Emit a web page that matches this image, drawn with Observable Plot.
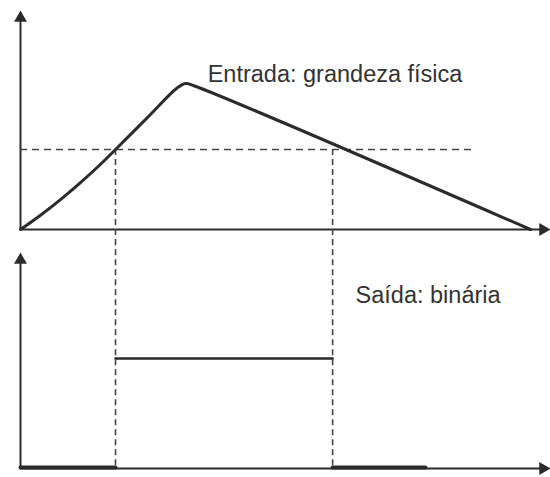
<!DOCTYPE html>
<html>
<head>
<meta charset="utf-8">
<script src="https://cdn.jsdelivr.net/npm/d3@7"></script>
<script src="https://cdn.jsdelivr.net/npm/@observablehq/plot@0.6"></script>
<style>
  html, body { margin: 0; padding: 0; background: #fff; }
  #chart svg { display: block; }
</style>
</head>
<body>
<div id="chart"></div>
<script>
// ---- data (time in arbitrary units, values normalised) ----
const inputTime  = [0, 3.92, 7.84, 11.76, 15.69, 18.63, 25.49, 30.59, 32.35, 34.12, 100];
const inputValue = [0, 0.098, 0.205, 0.321, 0.447, 0.548, 0.788, 0.966, 1.0, 0.983, 0];

const threshold = 0.548;
const thresholdEnd = 89.2;           // end of dashed threshold line
const switchTimes = [18.63, 61.2];   // on / off instants

const outputLowBefore = [0, 18.63];
const outputHigh      = [18.63, 61.2];
const outputLowAfter  = [61.2, 79.4];

const xAxisEnd = 102.45;             // arrowhead position on time axis
const inputAxisTop = 1.449;
const outputAxisTop = 1.895;
const inputPanelBottom = -0.08;      // verticals run to the panel edge
const outputPanelTop = 2.08;

const labelText = ["Entrada: grandeza física", "Saída: binária"];
const labelTime = [36.7, 65.7];
const labelValue = [1.065, 1.573];

// ---- build tables ----
const inputData = inputTime.map((t, i) => ({t, v: inputValue[i]}));
const seg = (a, v) => a.map(t => ({t, v}));

const ink = "#2b2b2b";
const dashInk = "#444";
const font = "'Liberation Sans', Arial, sans-serif";

const xScale = {domain: [0, 100], range: [20, 530], axis: null};

const inputPanel = Plot.plot({
  width: 550, height: 240,
  marginTop: 0, marginBottom: 0, marginLeft: 0, marginRight: 0,
  x: xScale,
  y: {domain: [0, 1], range: [229, 83], axis: null},
  style: {background: "#fff", fontFamily: font},
  marks: [
    Plot.ruleX([0], {y1: 0, y2: inputAxisTop, stroke: ink, strokeWidth: 2}),
    Plot.ruleY([0], {x1: 0, x2: xAxisEnd, stroke: ink, strokeWidth: 2}),
    Plot.dot([{t: 0, v: inputAxisTop}], {x: "t", y: "v", symbol: "triangle", r: 4.8, fill: ink, stroke: "none"}),
    Plot.dot([{t: xAxisEnd, v: 0}], {x: "t", y: "v", symbol: "triangle", r: 4.8, rotate: 90, fill: ink, stroke: "none"}),
    Plot.ruleY([threshold], {x1: 0, x2: thresholdEnd, stroke: dashInk, strokeWidth: 1.6, strokeDasharray: "7,5"}),
    Plot.ruleX(switchTimes, {y1: threshold, y2: inputPanelBottom, stroke: dashInk, strokeWidth: 1.6, strokeDasharray: "6,4"}),
    Plot.line(inputData, {x: "t", y: "v", stroke: ink, strokeWidth: 3, curve: "catmull-rom"}),
    Plot.text([0], {x: () => labelTime[0], y: () => labelValue[0], text: () => labelText[0],
      textAnchor: "start", lineAnchor: "middle", fontSize: 23.5, fill: "#333", fontFamily: font})
  ]
});

const outputPanel = Plot.plot({
  width: 550, height: 237,
  marginTop: 0, marginBottom: 0, marginLeft: 0, marginRight: 0,
  x: xScale,
  y: {domain: [0, 1], range: [228, 118], axis: null},
  style: {background: "#fff", fontFamily: font},
  marks: [
    Plot.ruleX(switchTimes, {y1: outputPanelTop, y2: 0, stroke: dashInk, strokeWidth: 1.6, strokeDasharray: "6,4"}),
    Plot.ruleX([0], {y1: 0, y2: outputAxisTop, stroke: ink, strokeWidth: 2}),
    Plot.ruleY([0], {x1: 0, x2: xAxisEnd, stroke: ink, strokeWidth: 2}),
    Plot.dot([{t: 0, v: outputAxisTop}], {x: "t", y: "v", symbol: "triangle", r: 4.8, fill: ink, stroke: "none"}),
    Plot.dot([{t: xAxisEnd, v: 0}], {x: "t", y: "v", symbol: "triangle", r: 4.8, rotate: 90, fill: ink, stroke: "none"}),
    Plot.line(seg(outputLowBefore, 0), {x: "t", y: "v", stroke: ink, strokeWidth: 4, dy: -1}),
    Plot.line(seg(outputHigh, 1), {x: "t", y: "v", stroke: ink, strokeWidth: 2.5}),
    Plot.line(seg(outputLowAfter, 0), {x: "t", y: "v", stroke: ink, strokeWidth: 4, dy: -1}),
    Plot.text([0], {x: () => labelTime[1], y: () => labelValue[1], text: () => labelText[1],
      textAnchor: "start", lineAnchor: "middle", fontSize: 23.5, fill: "#333", fontFamily: font})
  ]
});

document.getElementById("chart").append(inputPanel, outputPanel);
</script>
</body>
</html>
